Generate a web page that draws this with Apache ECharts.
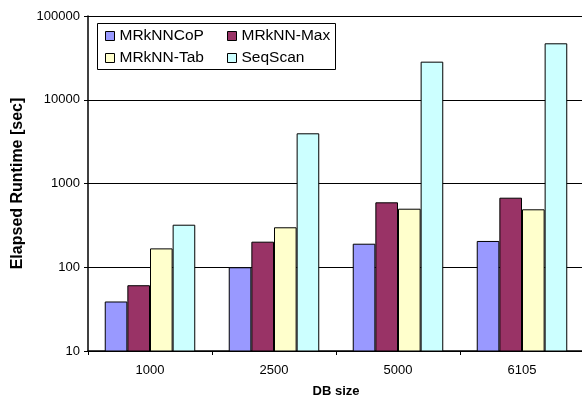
<!DOCTYPE html>
<html>
<head>
<meta charset="utf-8">
<script src="https://cdn.jsdelivr.net/npm/echarts@6/dist/echarts.min.js"></script>
<style>html,body{margin:0;padding:0;background:#fff;}#c{width:582px;height:397px;}</style>
</head>
<body>
<div id="c"></div>
<script>
const categories = ['1000', '2500', '5000', '6105'];
const seriesNames = ['MRkNNCoP', 'MRkNN-Max', 'MRkNN-Tab', 'SeqScan'];
const coP = [39, 100, 191, 206];
const maxV = [61, 202, 596, 677];
const tab = [168, 300, 500, 492];
const seqScan = [322, 3975, 28500, 47200];
const colors = ['#9999FF', '#993366', '#FFFFCC', '#CCFFFF'];

const FONT = '"Liberation Sans", Arial, sans-serif';
const chart = echarts.init(document.getElementById('c'), null, {renderer: 'canvas'});
const data = [coP, maxV, tab, seqScan];
const legendCommon = {
  orient: 'vertical', top: 28, padding: 0, itemGap: 6,
  itemWidth: 9, itemHeight: 9, icon: 'rect',
  itemStyle: {borderColor: '#000', borderWidth: 1},
  textStyle: {fontFamily: FONT, fontSize: 15.5, color: '#000', lineHeight: 16}
};
chart.setOption({
  animation: false,
  textStyle: {fontFamily: FONT},
  grid: {left: 88, top: 16, width: 496, bottom: 46, containLabel: false, outerBoundsMode: 'none'},
  graphic: [{type: 'rect', shape: {x: 97.5, y: 23.5, width: 238, height: 46},
    style: {fill: '#fff', stroke: '#000', lineWidth: 1}, z: 5}],
  legend: [
    Object.assign({left: 105, data: [seriesNames[0], seriesNames[2]], z: 10}, legendCommon),
    Object.assign({left: 227, data: [seriesNames[1], seriesNames[3]], z: 10}, legendCommon)
  ],
  xAxis: {
    type: 'category', data: categories,
    name: 'DB size', nameLocation: 'middle', nameGap: 34,
    nameTextStyle: {fontFamily: FONT, fontSize: 13, fontWeight: 'bold', color: '#000'},
    axisLine: {lineStyle: {color: '#000', width: 1.5}},
    axisTick: {show: true, length: 4, lineStyle: {color: '#000'}},
    axisLabel: {fontFamily: FONT, fontSize: 13, color: '#000', margin: 13},
    splitLine: {show: false}
  },
  yAxis: {
    type: 'log', logBase: 10, min: 10, max: 100000,
    name: 'Elapsed Runtime [sec]', nameLocation: 'middle', nameGap: 61,
    nameTextStyle: {fontFamily: FONT, fontSize: 16, fontWeight: 'bold', color: '#000'},
    axisLine: {show: true, lineStyle: {color: '#000', width: 1.5}},
    axisTick: {show: true, length: 4, lineStyle: {color: '#000'}},
    axisLabel: {fontFamily: FONT, fontSize: 13, color: '#000', margin: 8,
      formatter: v => String(Math.round(v))},
    splitLine: {show: true, lineStyle: {color: '#000', width: 1}},
    minorTick: {show: false}
  },
  series: seriesNames.map((n, i) => ({
    name: n, type: 'bar', data: data[i],
    barGap: '0%', barCategoryGap: '27%',
    itemStyle: {color: colors[i], borderColor: '#000', borderWidth: 1}
  }))
});
</script>
</body>
</html>
